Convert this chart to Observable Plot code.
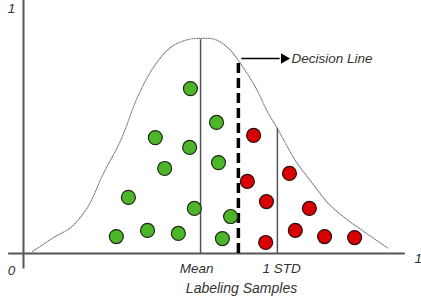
<!DOCTYPE html>
<html>
<head>
<meta charset="utf-8">
<script src="https://cdn.jsdelivr.net/npm/d3@7"></script>
<script src="https://cdn.jsdelivr.net/npm/@observablehq/plot@0.6"></script>
<style>
html,body{margin:0;padding:0;background:#fff;}
#chart svg{display:block;}
</style>
</head>
<body>
<div id="chart"></div>
<script>
// Bell curve (normalized 0..1 axes)
const curveX = [0.023,0.077,0.121,0.164,0.205,0.249,0.292,0.333,0.377,0.421,0.454,0.492,0.526,0.551,0.595,0.628,0.651,0.697,0.741,0.782,0.826,0.869,0.936];
const curveY = [0.008,0.065,0.106,0.188,0.327,0.461,0.637,0.759,0.841,0.873,0.878,0.873,0.837,0.788,0.678,0.571,0.510,0.380,0.286,0.204,0.143,0.094,0.020];

// Green samples
const greenX = [0.428,0.495,0.338,0.426,0.500,0.362,0.269,0.438,0.531,0.238,0.318,0.397,0.510];
const greenY = [0.673,0.535,0.473,0.433,0.371,0.347,0.229,0.184,0.151,0.069,0.094,0.082,0.061];

// Red samples
const redX = [0.590,0.574,0.682,0.623,0.733,0.621,0.697,0.772,0.849];
const redY = [0.482,0.294,0.327,0.212,0.184,0.045,0.094,0.069,0.065];

// Reference lines
const meanX = 0.454, meanTop = 0.873;
const stdX = 0.651, stdTop = 0.510;
const decisionX = 0.551, decisionTop = 0.788;
const arrowY = 0.796, arrowX1 = 0.560, arrowX2 = 0.668;

// Labels
const axisLabels = [
  {x: -0.031, y: 1.0, text: "1"},
  {x: -0.031, y: -0.069, text: "0"},
  {x: 1.012, y: -0.022, text: "1"},
  {x: 0.444, y: -0.061, text: "Mean"},
  {x: 0.662, y: -0.061, text: "1 STD"}
];
const xTitle = "Labeling Samples";
const decisionLabel = "Decision Line";

const curve = curveX.map((x, i) => ({x, y: curveY[i]}));
const green = greenX.map((x, i) => ({x, y: greenY[i]}));
const red = redX.map((x, i) => ({x, y: redY[i]}));

const font = "'Liberation Sans', Arial, sans-serif";

const chart = Plot.plot({
  width: 421,
  height: 302,
  marginLeft: 23,
  marginRight: 8,
  marginTop: 8,
  marginBottom: 49,
  style: {background: "#fff", fontFamily: font},
  x: {domain: [0, 1], axis: null},
  y: {domain: [0, 1], axis: null},
  marks: [
    // axes
    Plot.ruleX([0], {y1: -0.063, y2: 1.033, stroke: "#555", strokeWidth: 2}),
    Plot.ruleY([0], {x1: -0.038, x2: 0.979, stroke: "#555", strokeWidth: 2}),
    // bell curve
    Plot.line(curve, {x: "x", y: "y", curve: "catmull-rom", stroke: "#7a7a7a", strokeWidth: 1.1, strokeDasharray: "1,1.4"}),
    // mean and std lines
    Plot.ruleX([meanX], {y1: 0, y2: meanTop, stroke: "#555", strokeWidth: 1.5}),
    Plot.ruleX([stdX], {y1: 0, y2: stdTop, stroke: "#555", strokeWidth: 1.5}),
    // decision line
    Plot.ruleX([decisionX], {y1: 0, y2: decisionTop, stroke: "#000", strokeWidth: 3.5, strokeDasharray: "10,5"}),
    // arrow
    Plot.ruleY([arrowY], {x1: arrowX1, x2: arrowX2 - 0.01, stroke: "#000", strokeWidth: 1.3}),
    Plot.dot([{x: arrowX2, y: arrowY}], {x: "x", y: "y", symbol: "triangle2", r: 5, fill: "#000", rotate: 90}),
    Plot.text([{x: 0.687, y: arrowY}], {x: "x", y: "y", text: () => decisionLabel, textAnchor: "start", fontSize: 13.5, fontStyle: "italic", fill: "#333"}),
    // samples
    Plot.dot(green, {x: "x", y: "y", r: 7, fill: "#4cb52a", stroke: "#1e2a14", strokeWidth: 1.2}),
    Plot.dot(red, {x: "x", y: "y", r: 7, fill: "#d80000", stroke: "#2a1010", strokeWidth: 1.2}),
    // labels
    Plot.text(axisLabels, {x: "x", y: "y", text: "text", fontSize: 13.5, fontStyle: "italic", fill: "#333"}),
    Plot.text([{x: 0.559, y: -0.143}], {x: "x", y: "y", text: () => xTitle, fontSize: 14, fontStyle: "italic", fill: "#333"})
  ]
});
document.getElementById("chart").appendChild(chart);
</script>
</body>
</html>
